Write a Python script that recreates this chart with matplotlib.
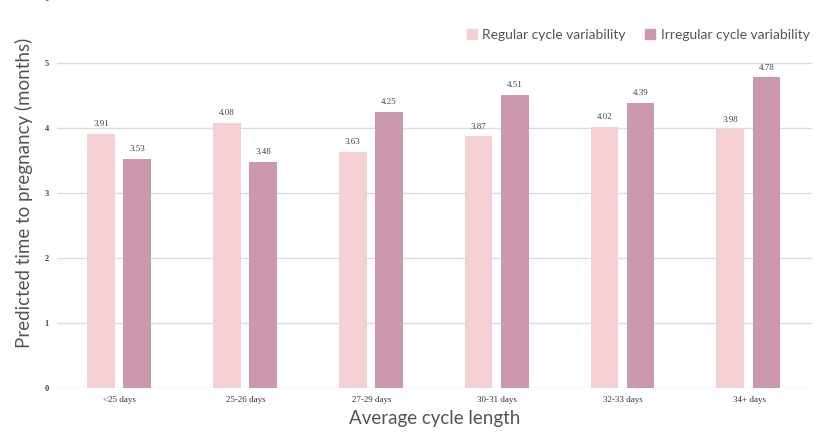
import matplotlib.pyplot as plt
import numpy as np
from matplotlib.patches import Patch

categorias = ['<25 days', '25-26 days', '27-29 days', '30-31 days', '32-33 days', '34+ days']
regular = [3.91, 4.08, 3.63, 3.87, 4.02, 3.98]
irregular = [3.53, 3.48, 4.25, 4.51, 4.39, 4.78]
y_ticks = [0, 1, 2, 3, 4, 5, 6]

color_regular = '#f4cfd4'
color_irregular = '#cb98ae'
gris = '#555555'

fig = plt.figure(figsize=(8.25, 4.36), dpi=100)
ax = fig.add_axes([57 / 825, 48 / 436, 755 / 825, 390 / 436])

x = np.arange(len(categorias))
ancho = 0.22
b1 = ax.bar(x - 0.15, regular, ancho, color=color_regular, zorder=3)
b2 = ax.bar(x + 0.138, irregular, ancho, color=color_irregular, zorder=3)

# Etiquetas encima de cada barra
for barras, valores in ((b1, regular), (b2, irregular)):
    for barra, valor in zip(barras, valores):
        ax.annotate(f'{valor:.2f}', (barra.get_x() + barra.get_width() / 2, valor),
                    textcoords='offset points', xytext=(0, 4), ha='center', va='bottom',
                    fontsize=6.5, family='Liberation Serif', color='#444444')

ax.set_xlim(-0.5, len(categorias) - 0.5)
ax.set_ylim(0, 6)
ax.set_yticks(y_ticks)
ax.set_yticklabels([str(t) for t in y_ticks], family='Liberation Serif', fontsize=6,
                   color='#444444', fontweight='bold')
ax.set_xticks(x)
ax.set_xticklabels(categorias, family='Liberation Serif', fontsize=6.5, color='#333333')
ax.tick_params(axis='both', length=0, pad=6)
ax.grid(axis='y', color='#dddddd', linewidth=1, zorder=0)
for lado in ax.spines.values():
    lado.set_visible(False)

ax.set_xlabel('Average cycle length', fontsize=13.5, color=gris, labelpad=4, family='Lato')
ax.set_ylabel('Predicted time to pregnancy (months)', fontsize=13.5, color=gris,
              labelpad=8, family='Lato')

handles = [Patch(color=color_regular, label='Regular cycle variability'),
           Patch(color=color_irregular, label='Irregular cycle variability')]
fig.legend(handles=handles, loc='center right', bbox_to_anchor=(822 / 825, 1 - 35 / 436),
           ncol=2, frameon=False, handlelength=0.7, handleheight=0.7, handletextpad=0.4,
           columnspacing=1.4, prop={'family': 'Lato', 'size': 10}, labelcolor=gris)

fig.savefig('out.png', dpi=100)
plt.close(fig)
